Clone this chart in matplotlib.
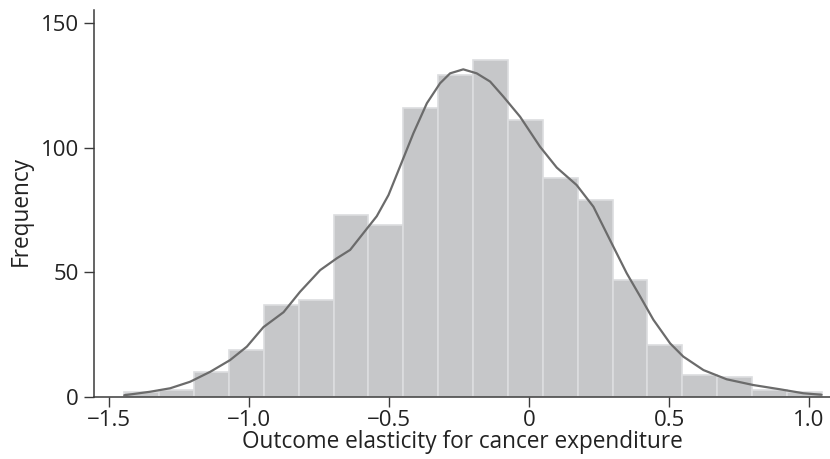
import numpy as np
import matplotlib
matplotlib.use("Agg")
import matplotlib.pyplot as plt

# ---- data ----
bin_start = -1.446
bin_end = 1.046
counts = [2, 3, 10, 19, 37, 39, 73, 69, 116, 129, 135, 111, 88, 79, 47, 21, 9, 8, 3, 2]

curve_x = [-1.446, -1.354, -1.282, -1.211, -1.139, -1.068, -1.008, -0.949, -0.877,
           -0.818, -0.746, -0.687, -0.639, -0.592, -0.544, -0.502, -0.461, -0.413,
           -0.365, -0.318, -0.282, -0.235, -0.187, -0.139, -0.092, -0.032, 0.039,
           0.099, 0.170, 0.230, 0.289, 0.349, 0.396, 0.444, 0.504, 0.551, 0.623,
           0.706, 0.801, 0.896, 0.980, 1.045]
curve_y = [0.7, 2.1, 3.5, 6.1, 10.1, 14.8, 20.2, 28.0, 34.0,
           42.2, 50.9, 55.6, 59.0, 65.7, 72.5, 81.0, 92.4, 105.8,
           117.8, 125.8, 129.8, 131.4, 129.8, 126.5, 120.5, 112.4, 100.4,
           92.0, 85.0, 76.3, 63.0, 49.6, 40.5, 31.0, 21.5, 16.2, 10.8,
           7.1, 4.8, 3.1, 1.5, 0.9]

x_ticks = [-1.5, -1.0, -0.5, 0, 0.5, 1.0]
x_ticklabels = ["\u22121.5", "\u22121.0", "\u22120.5", "0", "0.5", "1.0"]
y_ticks = [0, 50, 100, 150]
y_ticklabels = ["0", "50", "100", "150"]
x_label = "Outcome elasticity for cancer expenditure"
y_label = "Frequency"

# ---- plot ----
plt.rcParams['font.family'] = ['Open Sans', 'DejaVu Sans']
fig = plt.figure(figsize=(8.30, 4.59), dpi=100)
ax = fig.add_axes([94/830, 62/459, 1 - 94/830, (397-10)/459])

edges = np.linspace(bin_start, bin_end, len(counts) + 1)
ax.bar(edges[:-1], counts, width=np.diff(edges), align='edge',
       color='#c6c7c9', edgecolor='#dcdddf', linewidth=1.2, zorder=2)
ax.plot(curve_x, curve_y, color='#6b6b6b', linewidth=1.6, zorder=3,
        solid_capstyle='round', solid_joinstyle='round')

ax.set_xlim(-1.554, 1.075)
ax.set_ylim(0, 155.2)
ax.set_xticks(x_ticks)
ax.set_xticklabels(x_ticklabels)
ax.set_yticks(y_ticks)
ax.set_yticklabels(y_ticklabels)

for s in ['top', 'right']:
    ax.spines[s].set_visible(False)
for s in ['left', 'bottom']:
    ax.spines[s].set_color('#3a3a3a')
    ax.spines[s].set_linewidth(1.1)
ax.tick_params(axis='both', direction='out', length=7, width=1.0,
               color='#3a3a3a', labelsize=16, labelcolor='#222222')
ax.tick_params(axis='x', pad=2)
ax.tick_params(axis='y', pad=4)

ax.set_xlabel(x_label, fontsize=16.3, color='#222222', labelpad=0)
ax.set_ylabel(y_label, fontsize=16.3, color='#222222')
ax.yaxis.set_label_coords(-0.083, 0.48)

fig.savefig("out.png", dpi=100)
